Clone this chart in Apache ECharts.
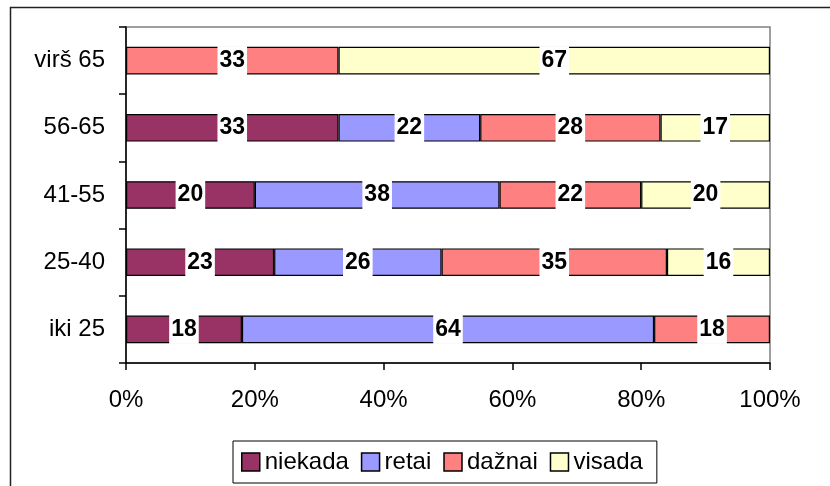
<!DOCTYPE html>
<html>
<head>
<meta charset="utf-8">
<script src="https://cdn.jsdelivr.net/npm/echarts@6/dist/echarts.min.js"></script>
<style>
  html, body { margin: 0; padding: 0; background: #fff; }
  #chart { width: 830px; height: 486px; }
</style>
</head>
<body>
<div id="chart"></div>
<script>
// Age groups, bottom to top
const categories = ['iki 25', '25-40', '41-55', '56-65', 'virš 65'];
const seriesNames = ['niekada', 'retai', 'dažnai', 'visada'];
// Percent shares per age group
const niekada = [18, 23, 20, 33, 0];
const retai   = [64, 26, 38, 22, 0];
const daznai  = [18, 35, 22, 28, 33];
const visada  = [0, 16, 20, 17, 67];
const xTickLabels = ['0%', '20%', '40%', '60%', '80%', '100%'];

const colors = ['#993366', '#9999FF', '#FF8080', '#FFFFCC'];
const FONT = "'Liberation Sans', Arial, sans-serif";
const values = [niekada, retai, daznai, visada];

const chart = echarts.init(document.getElementById('chart'), null, { renderer: 'canvas' });

const series = seriesNames.map((name, i) => ({
  name: name,
  type: 'bar',
  stack: 'total',
  barCategoryGap: '59%',
  data: values[i].map(v => (v === 0 ? '-' : v)),
  itemStyle: { color: colors[i], borderColor: '#000', borderWidth: 1.2 },
  label: {
    show: true,
    position: 'inside',
    formatter: p => String(p.value),
    color: '#000',
    fontFamily: FONT,
    fontWeight: 'bold',
    fontSize: 23,
    lineHeight: 23,
    backgroundColor: '#fff',
    padding: [4, 2, 2, 2]
  },
  emphasis: { disabled: true }
}));

chart.setOption({
  animation: false,
  backgroundColor: '#fff',
  grid: {
    left: 126, top: 27, right: 60, bottom: 123,
    show: true, borderColor: '#808080', borderWidth: 1.5
  },
  xAxis: {
    type: 'value',
    min: 0, max: 100, interval: 20,
    axisLine: { show: true, lineStyle: { color: '#000', width: 1.5 } },
    axisTick: { show: true, length: 7, lineStyle: { color: '#000', width: 1.5 } },
    splitLine: { show: false },
    axisLabel: {
      margin: 25,
      color: '#000',
      fontFamily: FONT,
      fontSize: 24,
      formatter: v => xTickLabels[Math.round(v / 20)]
    }
  },
  yAxis: {
    type: 'category',
    data: categories,
    axisLine: { show: true, lineStyle: { color: '#000', width: 1.5 } },
    axisTick: { show: true, length: 7, lineStyle: { color: '#000', width: 1.5 } },
    axisLabel: {
      margin: 21,
      color: '#000',
      fontFamily: FONT,
      fontSize: 24
    }
  },
  legend: {
    bottom: 3,
    left: 233,
    data: seriesNames,
    icon: 'rect',
    itemWidth: 18,
    itemHeight: 18,
    itemGap: 12,
    borderColor: '#000',
    borderWidth: 1,
    backgroundColor: '#fff',
    padding: [9, 14, 9, 8],
    itemStyle: { borderColor: '#000', borderWidth: 1.5 },
    textStyle: { color: '#000', fontFamily: FONT, fontSize: 24 }
  },
  graphic: [{
    type: 'rect',
    silent: true,
    shape: { x: 10.5, y: 7.5, width: 830, height: 490 },
    style: { fill: 'none', stroke: '#222', lineWidth: 1.5 },
    z: 100
  }],
  series: series
});
</script>
</body>
</html>
